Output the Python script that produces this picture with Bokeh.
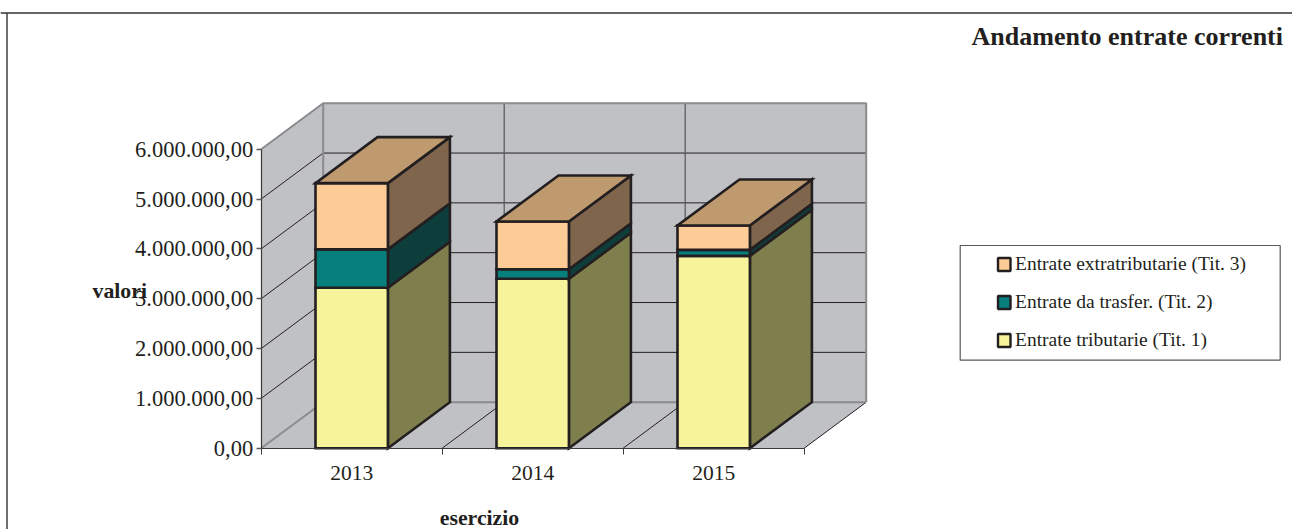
from bokeh.plotting import figure
from bokeh.embed import file_html
from bokeh.resources import INLINE
from bokeh.models import Range1d, FixedTicker
from bokeh.core.properties import value

# ---- data ----
years = ["2013", "2014", "2015"]
entrate_tributarie = [3220000, 3400000, 3860000]
entrate_trasfer = [770000, 190000, 120000]
entrate_extra = [1330000, 960000, 490000]
series_names = ["Entrate tributarie (Tit. 1)", "Entrate da trasfer. (Tit. 2)", "Entrate extratributarie (Tit. 3)"]
y_ticks = [0, 1000000, 2000000, 3000000, 4000000, 5000000, 6000000]
y_labels = ["0,00", "1.000.000,00", "2.000.000,00", "3.000.000,00", "4.000.000,00", "5.000.000,00", "6.000.000,00"]
title_text = "Andamento entrate correnti"
y_title = "valori"
x_title = "esercizio"

# ---- style / layout ----
W, H = 1292, 529
CAT_PX, X_ORIGIN = 181.0, 351.2     # px per category, px of first category centre
Y_ZERO, PX_PER_UNIT = 447.7, 299.0 / 6e6
DEPTH_X, DEPTH_Y = 62 / CAT_PX, 46 / PX_PER_UNIT
BAR_W = 0.4
INK = "#231F20"
WALL = "#C0C1C5"
WALL_EDGE = "#8A8B8D"
FRONT = ["#F6F39B", "#077F7C", "#FDCB96"]
SIDE = ["#7F7F4D", "#0E3E3C", "#7F654B"]
TOP = ["#BFBD78", "#0A6260", "#BF9A6F"]
SERIF = value("Liberation Serif")


def dx(px):
    return (px - X_ORIGIN) / CAT_PX


def dy(py):
    return (Y_ZERO - py) / PX_PER_UNIT


p = figure(width=W, height=H, output_backend="svg", toolbar_location=None,
           x_range=Range1d(dx(0), dx(W)), y_range=Range1d(dy(H), dy(0)),
           min_border=0, outline_line_color=None, background_fill_color="white",
           border_fill_color="white")
p.styles = {"position": "absolute", "left": "0px", "top": "0px"}
p.grid.visible = False

x_l, x_r = -0.5, len(years) - 0.5
y_top = y_ticks[-1]

# walls and floor
p.patch([x_l, x_l + DEPTH_X, x_l + DEPTH_X, x_l], [0, DEPTH_Y, y_top + DEPTH_Y, y_top],
        fill_color=WALL, line_color=None)
p.patch([x_l + DEPTH_X, x_r + DEPTH_X, x_r + DEPTH_X, x_l + DEPTH_X],
        [DEPTH_Y, DEPTH_Y, y_top + DEPTH_Y, y_top + DEPTH_Y], fill_color=WALL, line_color=None)
p.patch([x_l, x_r, x_r + DEPTH_X, x_l + DEPTH_X], [0, 0, DEPTH_Y, DEPTH_Y],
        fill_color=WALL, line_color=None)

# gridlines
for t in y_ticks[1:-1]:
    p.line([x_l, x_l + DEPTH_X, x_r + DEPTH_X], [t, t + DEPTH_Y, t + DEPTH_Y],
           line_color=INK, line_width=1)
for k in range(1, len(years) + 1):
    xk = x_l + k
    p.line([xk, xk + DEPTH_X], [0, DEPTH_Y], line_color=INK, line_width=1)
    if k < len(years):
        p.line([xk + DEPTH_X, xk + DEPTH_X], [DEPTH_Y, y_top + DEPTH_Y], line_color="#55565A", line_width=1.2)

# wall edges
p.line([x_l, x_l + DEPTH_X, x_r + DEPTH_X, x_r + DEPTH_X],
       [y_top, y_top + DEPTH_Y, y_top + DEPTH_Y, DEPTH_Y], line_color=WALL_EDGE, line_width=2)
p.line([x_l, x_l + DEPTH_X, x_r + DEPTH_X], [0, DEPTH_Y, DEPTH_Y], line_color=WALL_EDGE, line_width=2)
p.line([x_l + DEPTH_X, x_l + DEPTH_X], [DEPTH_Y, y_top + DEPTH_Y], line_color=WALL_EDGE, line_width=2)

# stacked 3D bars
stack = [entrate_tributarie, entrate_trasfer, entrate_extra]
for i in range(len(years)):
    x0, x1 = i - BAR_W / 2, i + BAR_W / 2
    base = 0
    for s, vals in enumerate(stack):
        top = base + vals[i]
        kw = dict(line_color=INK, line_width=2.6, line_join="miter")
        p.patch([x1, x1 + DEPTH_X, x1 + DEPTH_X, x1],
                [base, base + DEPTH_Y, top + DEPTH_Y, top], fill_color=SIDE[s], **kw)
        p.patch([x0, x1, x1, x0], [base, base, top, top], fill_color=FRONT[s], **kw)
        if s == len(stack) - 1:
            p.patch([x0, x1, x1 + DEPTH_X, x0 + DEPTH_X],
                    [top, top, top + DEPTH_Y, top + DEPTH_Y], fill_color=TOP[s], **kw)
        base = top

# axes
ya = p.yaxis[0]
ya.fixed_location = x_l
ya.bounds = (0, y_top)
ya.ticker = FixedTicker(ticks=y_ticks)
ya.major_label_overrides = dict(zip(y_ticks, y_labels))
ya.major_tick_out, ya.major_tick_in = 5, 0
ya.minor_tick_line_color = None
ya.axis_line_color = "#3A3A3C"
ya.axis_line_width = 1.2
ya.major_tick_line_color = "#5A5A5C"
ya.major_tick_line_width = 1.5
ya.major_label_standoff = 3
ya.major_label_text_font = "Liberation Serif"
ya.major_label_text_font_size = "22.5px"
ya.major_label_text_color = INK

xa = p.xaxis[0]
xa.fixed_location = 0
xa.bounds = (x_l, x_r)
positions = list(range(len(years)))
xa.ticker = FixedTicker(ticks=positions, minor_ticks=[x_l + k for k in range(len(years) + 1)])
xa.major_label_overrides = dict(zip(positions, years))
xa.major_tick_out, xa.major_tick_in = 0, 0
xa.minor_tick_out, xa.minor_tick_in = 6, 0
xa.minor_tick_line_color = "#3A3A3C"
xa.axis_line_color = "#3A3A3C"
xa.axis_line_width = 1.2
xa.major_label_standoff = 12
xa.major_label_text_font = "Liberation Serif"
xa.major_label_text_font_size = "21.5px"
xa.major_label_text_color = INK

# outer frame
p.line([dx(0), dx(W)], [dy(12.5), dy(12.5)], line_color="#333333", line_width=1.4)
p.line([dx(6.5), dx(6.5)], [dy(12.5), dy(H)], line_color="#333333", line_width=1.4)

# texts
p.text([dx(1282.5)], [dy(36)], text=[title_text], text_font=SERIF, text_font_size="26px",
       text_font_style="bold", text_color=INK, text_align="right", text_baseline="middle")
p.text([dx(92)], [dy(290.5)], text=[y_title], text_font=SERIF, text_font_size="21.8px",
       text_font_style="bold", text_color=INK, text_align="left", text_baseline="middle")
p.text([dx(479)], [dy(517.5)], text=[x_title], text_font=SERIF, text_font_size="21.8px",
       text_font_style="bold", text_color=INK, text_align="center", text_baseline="middle")

# legend
p.quad(left=[dx(959.7)], right=[dx(1279.7)], top=[dy(245)], bottom=[dy(359.7)],
       fill_color="white", line_color="#58595B", line_width=1.2)
for row, s in enumerate(reversed(range(len(series_names)))):
    yc = 264 + row * 38
    p.quad(left=[dx(997.5)], right=[dx(1010)], top=[dy(yc - 6.5)], bottom=[dy(yc + 6.5)],
           fill_color=FRONT[s], line_color=INK, line_width=2.4)
    p.text([dx(1014.5)], [dy(yc - 0.7)], text=[series_names[s]], text_font=SERIF, text_font_size="19.5px",
           text_color=INK, text_align="left", text_baseline="middle")

open("out.html", "w").write(file_html(p, INLINE))
